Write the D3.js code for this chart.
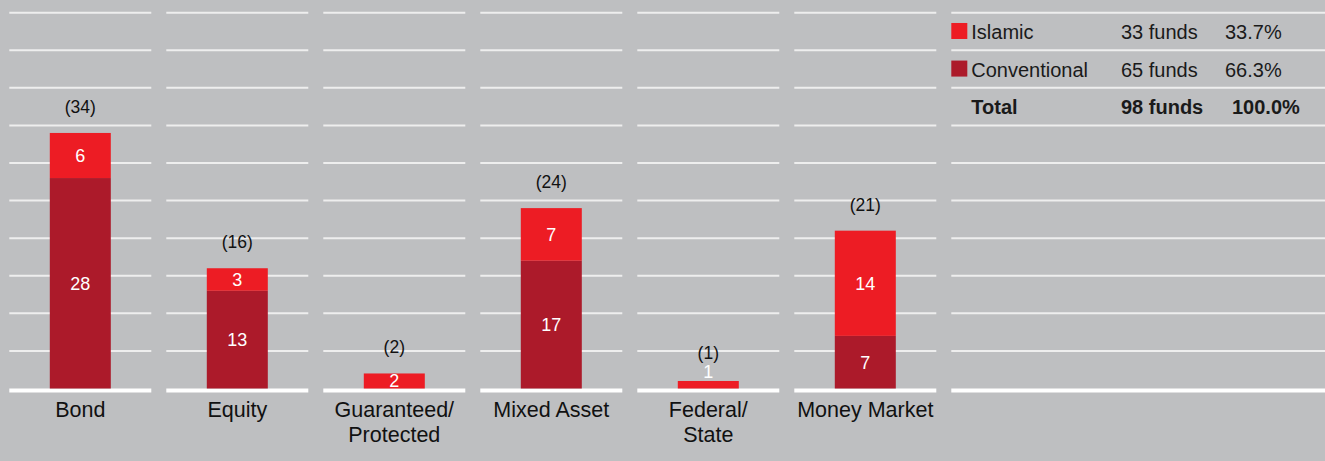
<!DOCTYPE html>
<html>
<head>
<meta charset="utf-8">
<script src="https://cdn.jsdelivr.net/npm/d3@7"></script>
<style>
  html, body { margin: 0; padding: 0; background: #bebfc1; }
  svg { display: block; font-family: "Liberation Sans", Arial, sans-serif; }
</style>
</head>
<body>
<div id="chart"></div>
<script>
// categories (label lines) and fund counts
const categories = ['Bond', 'Equity', 'Guaranteed/Protected', 'Mixed Asset', 'Federal/State', 'Money Market'];
const labelLines = [['Bond'], ['Equity'], ['Guaranteed/', 'Protected'], ['Mixed Asset'], ['Federal/', 'State'], ['Money Market']];
const conventional = [28, 13, 0, 17, 0, 7];
const islamic = [6, 3, 2, 7, 1, 14];

const legendNames = ['Islamic', 'Conventional', 'Total'];
const legendFunds = ['33 funds', '65 funds', '98 funds'];
const legendPct = ['33.7%', '66.3%', '100.0%'];

const W = 1325, H = 461;
const colIslamic = '#ed1c24', colConv = '#ac1a2a';

const svg = d3.select('#chart').append('svg')
	.attr('width', W)
	.attr('height', H);

// columns: step 157, segment 142 wide
const pad = 15 / 157;
const x = d3.scaleBand()
	.domain(categories)
	.range([1.8, 1.8 + 157 * 6])
	.paddingInner(pad)
	.paddingOuter(pad / 2);

const y = d3.scaleLinear().domain([0, 50]).range([388.5, 12.7]);

const barW = 61;
const legendX0 = x(categories[5]) + 157;

////////////////////////////////////////////////////////////////////
// grid segments (one per column + legend column)

const segments = categories.map(c => [x(c), x(c) + x.bandwidth()]);
segments.push([legendX0, W]);

const ticks = d3.range(5, 51, 5);
const grid = svg.append('g').attr('class', 'grid');
segments.forEach(s => {
	grid.selectAll(null)
		.data(ticks)
		.enter().append('line')
		.attr('x1', s[0]).attr('x2', s[1])
		.attr('y1', d => y(d)).attr('y2', d => y(d))
		.attr('stroke', '#eeeeee')
		.attr('stroke-width', 2);
	grid.append('line')
		.attr('x1', s[0]).attr('x2', s[1])
		.attr('y1', y(0) + 2).attr('y2', y(0) + 2)
		.attr('stroke', '#ffffff')
		.attr('stroke-width', 4);
});

////////////////////////////////////////////////////////////////////
// bars

const data = categories.map((c, i) => ({cat: c, conv: conventional[i], isl: islamic[i], lines: labelLines[i]}));
const cx = d => x(d.cat) + x.bandwidth() / 2;

const bars = svg.append('g').attr('class', 'bars');

bars.selectAll('.conv')
	.data(data.filter(d => d.conv > 0))
	.enter().append('rect')
	.attr('class', 'conv')
	.attr('x', d => cx(d) - barW / 2)
	.attr('width', barW)
	.attr('y', d => y(d.conv))
	.attr('height', d => y(0) - y(d.conv))
	.attr('fill', colConv);

bars.selectAll('.isl')
	.data(data)
	.enter().append('rect')
	.attr('class', 'isl')
	.attr('x', d => cx(d) - barW / 2)
	.attr('width', barW)
	.attr('y', d => y(d.conv + d.isl))
	.attr('height', d => y(d.conv) - y(d.conv + d.isl))
	.attr('fill', colIslamic);

// values inside segments (tiny segments get their label on top)
function segLabel(lo, hi) {
	const h = y(lo) - y(hi);
	return h < 12 ? y(hi) - 3 : (y(lo) + y(hi)) / 2 + 6.5;
}

bars.selectAll('.conv-label')
	.data(data.filter(d => d.conv > 0))
	.enter().append('text')
	.attr('x', cx)
	.attr('y', d => segLabel(0, d.conv))
	.attr('text-anchor', 'middle')
	.attr('fill', '#fff')
	.attr('font-size', 18)
	.text(d => d.conv);

bars.selectAll('.isl-label')
	.data(data)
	.enter().append('text')
	.attr('x', cx)
	.attr('y', d => segLabel(d.conv, d.conv + d.isl))
	.attr('text-anchor', 'middle')
	.attr('fill', '#fff')
	.attr('font-size', 18)
	.text(d => d.isl);

// totals above bars
bars.selectAll('.total')
	.data(data)
	.enter().append('text')
	.attr('x', cx)
	.attr('y', d => Math.min(y(d.conv + d.isl) - 20, segLabel(d.conv, d.conv + d.isl) - 19))
	.attr('text-anchor', 'middle')
	.attr('fill', '#111')
	.attr('font-size', 17.5)
	.text(d => '(' + (d.conv + d.isl) + ')');

// category labels
const cats = svg.append('g').attr('class', 'cats');
data.forEach(d => {
	const t = cats.append('text')
		.attr('x', cx(d))
		.attr('y', 416.5)
		.attr('text-anchor', 'middle')
		.attr('fill', '#111')
		.attr('font-size', 21.5);
	d.lines.forEach((l, j) => {
		t.append('tspan')
			.attr('x', cx(d))
			.attr('dy', j === 0 ? 0 : 25)
			.text(l);
	});
});

////////////////////////////////////////////////////////////////////
// legend table

const legend = svg.append('g').attr('class', 'legend');
const rowY = i => (y(50 - i * 5) + y(45 - i * 5)) / 2;

legendNames.forEach((name, i) => {
	const bold = name === 'Total';
	const by = rowY(i) + 7.5;
	if (!bold) {
		legend.append('rect')
			.attr('x', legendX0)
			.attr('y', rowY(i) - 8.5)
			.attr('width', 16)
			.attr('height', 16)
			.attr('fill', i === 0 ? colIslamic : colConv);
	}
	const g = legend.append('g')
		.attr('font-size', 20)
		.attr('fill', '#1a1a1a')
		.attr('font-weight', bold ? 'bold' : 'normal');
	g.append('text').attr('x', legendX0 + 20).attr('y', by).text(name);
	g.append('text').attr('x', 1121).attr('y', by).text(legendFunds[i]);
	g.append('text').attr('x', bold ? 1232 : 1225).attr('y', by).text(legendPct[i]);
});
</script>
</body>
</html>
